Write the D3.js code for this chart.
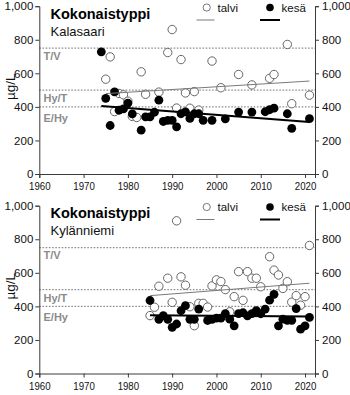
<!DOCTYPE html>
<html>
<head>
<meta charset="utf-8">
<script src="https://cdn.jsdelivr.net/npm/d3@7"></script>
<style>
  html, body { margin: 0; padding: 0; background: #fff; }
  svg { display: block; font-family: "Liberation Sans", Arial, sans-serif; }
</style>
</head>
<body>
<svg id="chart" width="350" height="395"></svg>
<script>
// Kokonaistyppi (total nitrogen, µg/l) — winter (talvi) and summer (kesä) samples

const xTicks = [1960, 1970, 1980, 1990, 2000, 2010, 2020];
const yTicks = [0, 200, 400, 600, 800, 1000];
const thresholds = [750, 500, 400];
const thresholdLabels = ["T/V", "Hy/T", "E/Hy"];
const seriesNames = ["talvi", "kesä"];

// Kalasaari
const kalasaariTalviYears = [1975, 1976, 1977, 1978, 1979, 1980, 1981, 1982, 1983, 1984, 1987, 1989, 1990, 1991, 1992, 1993, 1994, 1995, 1996, 1999, 2001, 2005, 2008, 2012, 2013, 2016, 2017, 2021];
const kalasaariTalviValues = [565, 698, 372, 480, 472, 434, 343, 337, 609, 475, 488, 724, 861, 393, 682, 483, 392, 491, 381, 673, 514, 593, 531, 570, 593, 772, 419, 470];
const kalasaariKesaYears = [1974, 1975, 1976, 1977, 1978, 1979, 1980, 1981, 1983, 1984, 1985, 1986, 1987, 1988, 1989, 1990, 1991, 1992, 1993, 1994, 1995, 1996, 1997, 1999, 2002, 2005, 2008, 2011, 2012, 2013, 2016, 2017, 2021];
const kalasaariKesaValues = [728, 451, 289, 489, 380, 388, 422, 358, 261, 341, 341, 368, 440, 313, 320, 320, 281, 359, 370, 331, 359, 359, 320, 320, 329, 369, 369, 371, 383, 392, 359, 272, 330];
const kalasaariTalviTrend = [[1975, 479], [2021, 554]];
const kalasaariKesaTrend = [[1974, 405], [2021, 310]];

// Kylänniemi
const kylanniemiTalviYears = [1985, 1986, 1987, 1989, 1990, 1991, 1992, 1993, 1994, 1995, 1996, 1997, 1998, 1999, 2000, 2001, 2002, 2003, 2004, 2005, 2006, 2007, 2008, 2009, 2010, 2012, 2013, 2014, 2015, 2016, 2017, 2018, 2019, 2020, 2021];
const kylanniemiTalviValues = [345, 395, 520, 568, 424, 910, 576, 526, 398, 285, 418, 418, 396, 522, 558, 548, 500, 368, 458, 607, 436, 607, 568, 568, 517, 696, 616, 587, 507, 547, 425, 464, 407, 458, 763];
const kylanniemiKesaYears = [1985, 1987, 1988, 1989, 1990, 1991, 1992, 1993, 1994, 1995, 1996, 1998, 1999, 2000, 2001, 2002, 2003, 2004, 2005, 2006, 2007, 2008, 2009, 2010, 2011, 2012, 2013, 2014, 2015, 2016, 2017, 2018, 2019, 2020, 2021];
const kylanniemiKesaValues = [435, 323, 345, 323, 275, 295, 374, 404, 323, 323, 384, 316, 323, 330, 330, 357, 324, 284, 357, 362, 344, 357, 375, 356, 384, 437, 472, 284, 324, 317, 317, 387, 264, 284, 334];
const kylanniemiTalviTrend = [[1985, 464], [2021, 538]];
const kylanniemiKesaTrend = [[1985, 347], [2021, 340]];

const panels = [
  { title: "Kokonaistyppi", place: "Kalasaari",
    talvi: d3.zip(kalasaariTalviYears, kalasaariTalviValues),
    kesa: d3.zip(kalasaariKesaYears, kalasaariKesaValues),
    talviTrend: kalasaariTalviTrend, kesaTrend: kalasaariKesaTrend },
  { title: "Kokonaistyppi", place: "Kylänniemi",
    talvi: d3.zip(kylanniemiTalviYears, kylanniemiTalviValues),
    kesa: d3.zip(kylanniemiKesaYears, kylanniemiKesaValues),
    talviTrend: kylanniemiTalviTrend, kesaTrend: kylanniemiKesaTrend }
];

const svg = d3.select("#chart");
const left = 39.3, right = 315;
const x = d3.scaleLinear().domain([1960, 2022.25]).range([left, right]);
const y = d3.scaleLinear().domain([0, 1000]).range([174, 6.2]);
const panelStep = 199.5;
const axisColor = "#3a3a3a";
const labelOffsets = [11.5, 12, 15];

panels.forEach((p, i) => {
  const g = svg.append("g").attr("transform", `translate(0,${i * panelStep})`);

  // threshold lines
  g.selectAll("line.thr").data(thresholds).join("line")
    .attr("x1", left).attr("x2", right)
    .attr("y1", d => y(d)).attr("y2", d => y(d))
    .attr("stroke", "#8c8c8c").attr("stroke-width", 1.4)
    .attr("stroke-dasharray", "1.6,1.6");

  g.selectAll("text.thr").data(thresholds).join("text")
    .attr("x", 43.5).attr("y", (d, k) => y(d) + labelOffsets[k])
    .attr("font-size", 11).attr("font-weight", "bold").attr("fill", "#8c8c8c")
    .text((d, k) => thresholdLabels[k]);

  // axes
  const yl = g.append("g").attr("transform", `translate(${left},0)`)
    .call(d3.axisLeft(y).tickValues(yTicks).tickSize(4).tickPadding(2));
  const yr = g.append("g").attr("transform", `translate(${right},0)`)
    .call(d3.axisRight(y).tickValues(yTicks).tickSize(4).tickPadding(3));
  const xa = g.append("g").attr("transform", `translate(0,${y(0)})`)
    .call(d3.axisBottom(x).tickValues(xTicks).tickFormat(d3.format("d")).tickSize(4).tickPadding(4));
  [yl, yr, xa].forEach(a => {
    a.select(".domain").attr("stroke", axisColor).attr("stroke-width", 1);
    a.selectAll(".tick line").attr("stroke", axisColor);
    a.selectAll(".tick text").attr("fill", "#111").attr("font-size", 11.5)
      .attr("font-family", "'Liberation Sans', Arial, sans-serif");
  });
  xa.selectAll(".tick text").attr("textLength", 21.5).attr("lengthAdjust", "spacingAndGlyphs");

  // unit label
  g.append("text")
    .attr("transform", `translate(14.5,${y(520)}) rotate(-90)`)
    .attr("text-anchor", "middle").attr("font-size", 13.5).attr("fill", "#111")
    .text("µg/L");

  // titles
  g.append("text").attr("x", 50.5).attr("y", 18.5)
    .attr("font-size", 14.5).attr("font-weight", "bold").attr("fill", "#000").text(p.title);
  g.append("text").attr("x", 50.5).attr("y", 35.5)
    .attr("font-size", 13).attr("fill", "#111").text(p.place);

  // points
  g.selectAll("circle.talvi").data(p.talvi).join("circle")
    .attr("cx", d => x(d[0])).attr("cy", d => y(d[1])).attr("r", 4.2)
    .attr("fill", "#fff").attr("stroke", "#666").attr("stroke-width", 1);
  g.selectAll("circle.kesa").data(p.kesa).join("circle")
    .attr("cx", d => x(d[0])).attr("cy", d => y(d[1])).attr("r", 4.4)
    .attr("fill", "#000");

  // trends
  const line = d3.line().x(d => x(d[0])).y(d => y(d[1]));
  g.append("path").attr("d", line(p.talviTrend)).attr("fill", "none")
    .attr("stroke", "#7a7a7a").attr("stroke-width", 1);
  g.append("path").attr("d", line(p.kesaTrend)).attr("fill", "none")
    .attr("stroke", "#000").attr("stroke-width", 2);

  // legend
  const lg = g.append("g");
  lg.append("circle").attr("cx", 206.7).attr("cy", 7.5).attr("r", 3.6)
    .attr("fill", "#fff").attr("stroke", "#777");
  lg.append("text").attr("x", 217.5).attr("y", 11.5).attr("font-size", 11.5).attr("fill", "#111").text(seriesNames[0]);
  lg.append("circle").attr("cx", 270).attr("cy", 7.5).attr("r", 3.8).attr("fill", "#000");
  lg.append("text").attr("x", 281.5).attr("y", 11.5).attr("font-size", 11.5).attr("fill", "#111").text(seriesNames[1]);
  lg.append("line").attr("x1", 196.5).attr("x2", 214.5).attr("y1", 20).attr("y2", 20)
    .attr("stroke", "#7a7a7a").attr("stroke-width", 1);
  lg.append("line").attr("x1", 260).attr("x2", 280).attr("y1", 20).attr("y2", 20)
    .attr("stroke", "#000").attr("stroke-width", 2);
});
</script>
</body>
</html>
